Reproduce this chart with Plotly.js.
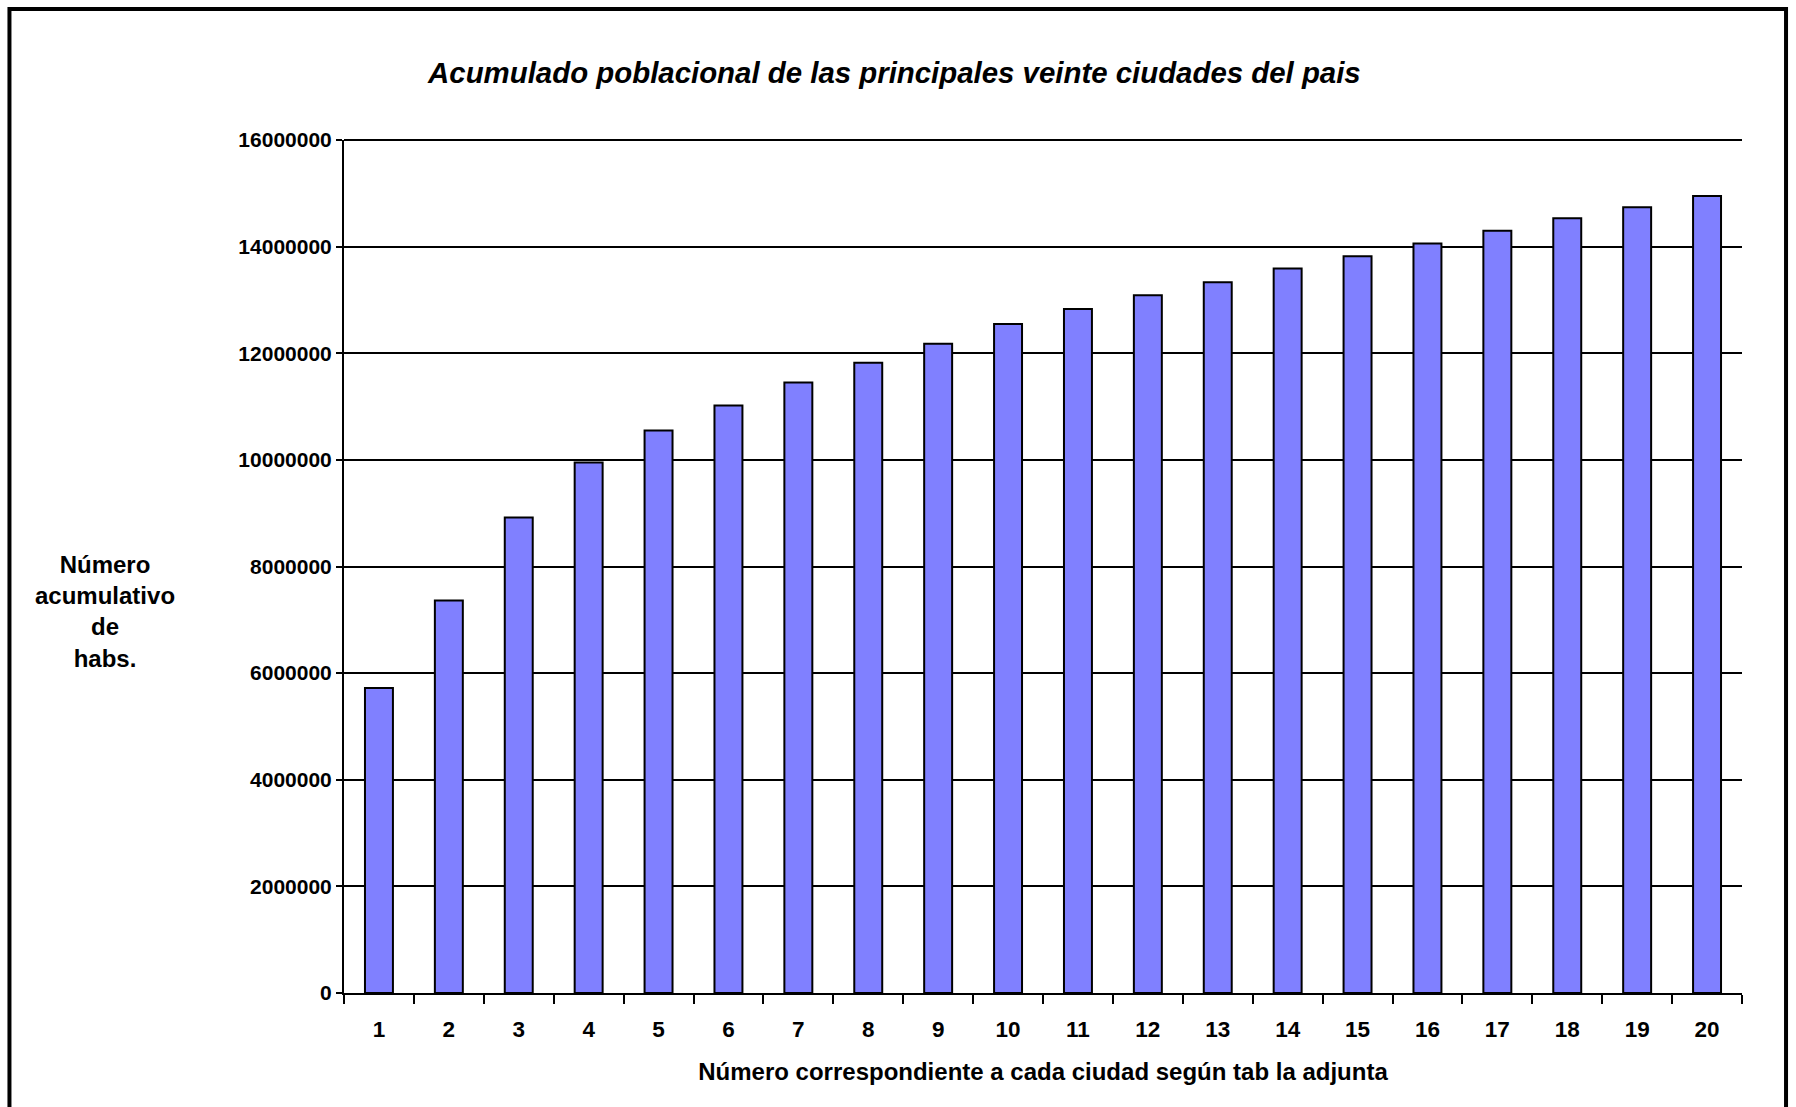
<!DOCTYPE html>
<html>
<head>
<meta charset="utf-8">
<script src="https://cdn.plot.ly/plotly-3.0.1.min.js"></script>
<style>
html,body{margin:0;padding:0;background:#fff;}
#chart{width:1796px;height:1107px;}
</style>
</head>
<body>
<div id="chart"></div>
<script>
// Data
const cityNumbers = ["1","2","3","4","5","6","7","8","9","10","11","12","13","14","15","16","17","18","19","20"];
const cumulativePopulation = [5720000, 7360000, 8920000, 9950000, 10550000, 11020000, 11450000, 11820000, 12180000, 12550000,
  12830000, 13090000, 13330000, 13590000, 13820000, 14060000, 14300000, 14530000, 14740000, 14950000];
const yTickValues = [0, 2000000, 4000000, 6000000, 8000000, 10000000, 12000000, 14000000, 16000000];
const yTickLabels = ["0","2000000","4000000","6000000","8000000","10000000","12000000","14000000","16000000"];
const yMax = 16000000;
const chartTitle = "Acumulado poblacional de las principales veinte ciudades del pais";
const xTitle = "Número correspondiente a cada ciudad según tab la adjunta";
const yTitle = "Número<br>acumulativo<br>de<br>habs.";

const FONT = "Arial, 'Liberation Sans', sans-serif";

const trace = {
  type: "bar",
  x: cityNumbers,
  y: cumulativePopulation,
  marker: {color: "#8080FF", line: {color: "#000000", width: 2}},
  hoverinfo: "x+y"
};

const layout = {
  width: 1796,
  height: 1107,
  paper_bgcolor: "#ffffff",
  plot_bgcolor: "#ffffff",
  margin: {l: 344, r: 54, t: 140, b: 114, pad: 0},
  bargap: 0.6,
  showlegend: false,
  font: {family: FONT, color: "#000", size: 20},
  title: {
    text: "<b><i>" + chartTitle + "</i></b>",
    font: {family: FONT, size: 29.4, color: "#000"},
    x: 0.498, xanchor: "center", xref: "container",
    y: 0.934, yanchor: "middle", yref: "container"
  },
  xaxis: {
    type: "category",
    showline: true, linecolor: "#000", linewidth: 2,
    ticks: "outside", tickson: "boundaries", ticklen: 9, tickwidth: 2, tickcolor: "#000",
    tickfont: {family: FONT, size: 22.5, color: "#000", weight: "bold"},
    ticklabelstandoff: 15,
    showgrid: false, zeroline: false,
    title: {text: "<b>" + xTitle + "</b>", font: {family: FONT, size: 24, color: "#000"}, standoff: 22}
  },
  yaxis: {
    range: [0, yMax],
    tickvals: yTickValues, ticktext: yTickLabels,
    showline: true, linecolor: "#000", linewidth: 2,
    ticks: "outside", ticklen: 6, tickwidth: 2, tickcolor: "#000",
    tickfont: {family: FONT, size: 21, color: "#000", weight: "bold"},
    showgrid: true, gridcolor: "#000", gridwidth: 2,
    zeroline: false
  },
  annotations: [{
    text: "<b>" + yTitle + "</b>",
    xref: "paper", yref: "paper",
    x: -0.171, y: 0.447, xanchor: "center", yanchor: "middle",
    showarrow: false, align: "center",
    font: {family: FONT, size: 24, color: "#000"}
  }],
  shapes: [
    {
      // gridline at the top of the value range (y = yMax, top edge of plot area)
      type: "line", xref: "paper", yref: "paper",
      x0: 0, x1: 1, y0: 1, y1: 1,
      line: {color: "#000", width: 2}, layer: "above"
    },
    {
      type: "rect", xref: "paper", yref: "paper",
      x0: -0.2393, x1: 1.0315, y0: -0.15, y1: 1.1536,
      line: {color: "#000", width: 4}, fillcolor: "rgba(0,0,0,0)", layer: "below"
    }
  ]
};

Plotly.newPlot("chart", [trace], layout, {displayModeBar: false, staticPlot: true});
</script>
</body>
</html>
